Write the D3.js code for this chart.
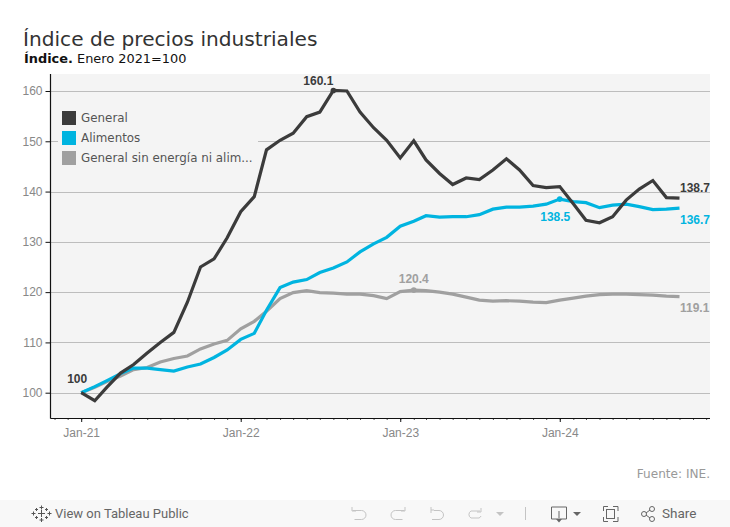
<!DOCTYPE html>
<html><head><meta charset="utf-8">
<script src="https://cdn.jsdelivr.net/npm/d3@7"></script>
<style>html,body{margin:0;padding:0;background:#fff;overflow:hidden}svg{display:block}</style>
</head><body><svg id="c" width="730" height="527"></svg>
<script>
const general = [100,98.4,101.1,103.9,105.6,107.9,110,112,118,125,126.6,130.8,136,139,148.3,150.2,151.6,154.9,155.8,160.1,160,155.8,152.7,150.2,146.7,150.1,146.3,143.6,141.4,142.7,142.4,144.3,146.5,144.3,141.2,140.8,141,137.6,134.3,133.8,135,138.3,140.5,142.2,138.8,138.7];
const alimentos = [100,101.2,102.4,103.8,104.9,104.9,104.6,104.3,105.1,105.7,107,108.5,110.6,111.8,116.4,120.9,122,122.5,123.9,124.8,126,128,129.6,130.9,133.1,134.1,135.2,134.9,135,135,135.4,136.5,136.9,136.9,137.1,137.5,138.5,138,137.8,136.8,137.3,137.5,137,136.4,136.5,136.7];
const sinEnergia = [100,101.1,102.2,103.3,104.6,105,106.1,106.8,107.3,108.7,109.7,110.4,112.7,114.2,116.2,118.7,119.9,120.3,119.9,119.8,119.6,119.6,119.3,118.7,120.1,120.4,120.3,120,119.6,119,118.4,118.2,118.3,118.2,118,117.9,118.4,118.8,119.2,119.5,119.6,119.6,119.5,119.4,119.2,119.1];
const seriesNames = ["General","Alimentos","General sin energía ni alim..."];
const seriesColors = ["#3b3b3b","#00b4e0","#a0a0a0"];
const yTicks = [100,110,120,130,140,150,160];
const xTickYears = [2021,2022,2023,2024];
const labels = [
 {s:0,i:0,text:"100",dx:-4,dy:-14,anchor:"middle"},
 {s:0,i:19,text:"160.1",dx:0,dy:-9,anchor:"end",dot:true},
 {s:0,i:45,text:"138.7",dx:0.5,dy:-10,anchor:"start"},
 {s:1,i:36,text:"138.5",dx:-4.5,dy:18,anchor:"middle",dot:true},
 {s:1,i:45,text:"136.7",dx:0.5,dy:12,anchor:"start"},
 {s:2,i:25,text:"120.4",dx:0,dy:-11,anchor:"middle",dot:true},
 {s:2,i:45,text:"119.1",dx:0.5,dy:11,anchor:"start"}
];
const dates = general.map((_,i)=>new Date(2021,i,1));
const allSeries = [general,alimentos,sinEnergia];

const svg = d3.select("#c");
const L=50.5,R=710,T=74,B=418;
const x = d3.scaleTime().domain([new Date(2021,0,1),new Date(2024,9,1)]).range([81.2,679.5]);
const y = d3.scaleLinear().domain([100,160]).range([392.7,91]);
const sans="'DejaVu Sans',sans-serif", arial="'Liberation Sans',Arial,sans-serif";

svg.append("rect").attr("x",L).attr("y",T).attr("width",R-L).attr("height",B-T).attr("fill","#f4f4f4");

svg.append("g").selectAll("line").data(yTicks).join("line")
 .attr("x1",L).attr("x2",R).attr("y1",d=>Math.round(y(d))+.5).attr("y2",d=>Math.round(y(d))+.5)
 .attr("stroke","#bdbdbd").attr("stroke-width",1);

const ya = svg.append("g").attr("transform",`translate(${L},0)`)
 .call(d3.axisLeft(y).tickValues(yTicks).tickSize(5).tickPadding(3).tickFormat(d3.format("d")));
ya.selectAll(".domain").remove();
ya.selectAll("line").attr("stroke","#111");
ya.selectAll("text").attr("font-family",arial).attr("font-size",12).attr("fill","#888");
svg.append("line").attr("x1",L).attr("x2",L).attr("y1",T).attr("y2",B+.5).attr("stroke","#111").attr("stroke-width",1.2);

const xMinor = d3.timeMonth.range(new Date(2020,10,1),new Date(2025,1,1));
const xMajor = xTickYears.map(v=>new Date(v,0,1));
const xMin = svg.append("g").attr("transform",`translate(0,${B})`)
 .call(d3.axisBottom(x).tickValues(xMinor.filter(d=>x(d)>L&&x(d)<R)).tickSize(2).tickFormat(""));
xMin.selectAll(".domain").remove();
xMin.selectAll("line").attr("stroke","#555");
const xMaj = svg.append("g").attr("transform",`translate(0,${B})`)
 .call(d3.axisBottom(x).tickValues(xMajor).tickSize(4).tickPadding(6).tickFormat(d3.timeFormat("Jan-%y")));
xMaj.selectAll(".domain").remove();
xMaj.selectAll("line").attr("stroke","#111");
xMaj.selectAll("text").attr("font-family",arial).attr("font-size",12).attr("fill","#888");
svg.append("line").attr("x1",L).attr("x2",R).attr("y1",B+.5).attr("y2",B+.5).attr("stroke","#111").attr("stroke-width",1.2);

const line = d3.line().x((d,i)=>x(dates[i])).y(d=>y(d));
[2,1,0].forEach(s=>{
 svg.append("path").attr("d",line(allSeries[s])).attr("fill","none")
  .attr("stroke",seriesColors[s]).attr("stroke-width",3.2).attr("stroke-linejoin","miter").attr("stroke-linecap","butt");
});

labels.forEach(l=>{
 const px=x(dates[l.i]),py=y(allSeries[l.s][l.i]);
 if(l.dot) svg.append("circle").attr("cx",px).attr("cy",py).attr("r",2.8).attr("fill",seriesColors[l.s]);
 svg.append("text").attr("x",px+l.dx).attr("y",py+l.dy+4).attr("text-anchor",l.anchor)
  .attr("font-family",arial).attr("font-size",12).attr("font-weight","bold").attr("fill",seriesColors[l.s]).text(l.text);
});

svg.append("rect").attr("x",58).attr("y",100).attr("width",200).attr("height",72).attr("fill","#f4f4f4");
const lg = svg.append("g").selectAll("g").data(seriesNames).join("g").attr("transform",(d,i)=>`translate(62,${111+i*20})`);
lg.append("rect").attr("width",14).attr("height",14).attr("fill",(d,i)=>seriesColors[i]);
lg.append("text").attr("x",19).attr("y",10.5).attr("font-family",sans).attr("font-size",11.9).attr("fill","#555").text(d=>d);

svg.append("text").attr("x",23).attr("y",46).attr("font-family",sans).attr("font-size",20.15).attr("fill","#333").text("Índice de precios industriales");
const st=svg.append("text").attr("x",24).attr("y",63).attr("font-family",sans).attr("font-size",12.9).attr("fill","#111");
st.append("tspan").attr("font-weight","bold").text("Índice.");
st.append("tspan").text(" Enero 2021=100");
svg.append("text").attr("x",710).attr("y",478).attr("text-anchor","end").attr("font-family",sans).attr("font-size",12.1).attr("fill","#999").text("Fuente: INE.");

svg.append("rect").attr("x",0).attr("y",500).attr("width",730).attr("height",27).attr("fill","#f8f8f8");
const tb=svg.append("g").attr("fill","none").attr("stroke","#666").attr("stroke-width",1);
svg.append("text").attr("x",55).attr("y",518).attr("font-family","Roboto,sans-serif").attr("font-size",13).attr("fill","#666").text("View on Tableau Public");
svg.append("text").attr("x",662).attr("y",518).attr("font-family","Roboto,sans-serif").attr("font-size",13.5).attr("fill","#666").text("Share");
tb.append("path").attr("stroke","#555").attr("d","M41.500 510v7M38 513.500h7M41.500 505.500v4M39.500 507.500h4M41.500 518v4M39.500 520h4M33.500 511.500v4M31.500 513.500h4M49.500 511.500v4M47.500 513.500h4M36.500 508v3M35 509.500h3M46.500 508v3M45 509.500h3M36.500 516v3M35 517.500h3M46.500 516v3M45 517.500h3");
const faint=svg.append("g").attr("fill","none").attr("stroke","#c4c4c4").attr("stroke-width",1);
faint.append("path").attr("d","M352 507v4h4M352.500 510.500h9a4.500 4.500 0 0 1 0 9h-7");
faint.append("path").attr("d","M405 507v4h-4M404.500 510.500h-9a4.500 4.500 0 0 0 0 9h7");
faint.append("path").attr("d","M431 507v6M431 510h3M434 510.500h5a4.500 4.500 0 0 1 0 9h-7");
faint.append("path").attr("d","M481 508v4l-4 0M480 511h-9a4 4 0 0 0 0 7h8a4 4 0 0 0 2-2");
svg.append("path").attr("d","M496 512h8l-4 4z").attr("fill","#c4c4c4");
svg.append("line").attr("x1",525.500).attr("x2",525.500).attr("y1",507).attr("y2",520).attr("stroke","#c4c4c4");
tb.append("path").attr("d","M558 519h-6.500v-12h15v12h-6.500M559 511v10");
svg.append("path").attr("d","M556 519h6l-3 3.500z").attr("fill","#666");
svg.append("path").attr("d","M573 512h8l-4 4z").attr("fill","#666");
tb.append("path").attr("d","M603.500 511v-4.500h4.500M613 506.500h5v4.500M618 517v4.500h-5M608 521.500h-4.500v-4.500");
tb.append("rect").attr("x",606.500).attr("y",509.500).attr("width",8).attr("height",9);
tb.append("circle").attr("cx",644).attr("cy",514).attr("r",2.500);
tb.append("circle").attr("cx",652).attr("cy",509).attr("r",2.500);
tb.append("circle").attr("cx",652).attr("cy",519).attr("r",2.500);
tb.append("path").attr("d","M646 513l4-3M646 515l4 3");
</script></body></html>
